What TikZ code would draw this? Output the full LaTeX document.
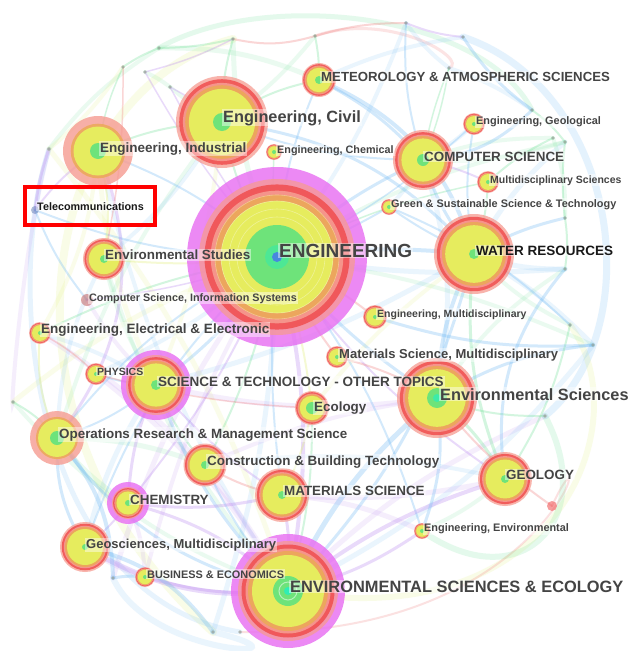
\documentclass[tikz,border=0pt]{standalone}
\usepackage{fontspec}
\setmainfont{Liberation Sans}
\definecolor{magc}{RGB}{232,112,242}
\definecolor{pinkc}{RGB}{246,155,145}
\definecolor{redc}{RGB}{240,78,78}
\definecolor{orangec}{RGB}{236,168,88}
\definecolor{yellowc}{RGB}{230,246,95}
\definecolor{greenc}{RGB}{80,225,130}
\definecolor{bluec}{RGB}{70,120,235}
\definecolor{labc}{RGB}{68,68,68}
\definecolor{labk}{RGB}{25,25,25}
\definecolor{eB}{RGB}{110,185,245}
\definecolor{eG}{RGB}{110,225,150}
\definecolor{eY}{RGB}{222,238,110}
\definecolor{eR}{RGB}{240,120,120}
\definecolor{eP}{RGB}{185,135,240}
\definecolor{dotc}{RGB}{150,160,150}
\newcommand\fsz[1]{\fontsize{#1}{#1}\selectfont}
\newcommand\bub[4]{%
  \ifnum#3>0 \fill[magc,opacity=.82] (#1) circle[radius=#3];\fi
  \fill[pinkc,opacity=.75] (#1) circle[radius=#2];
  \fill[redc,opacity=.85] (#1) circle[radius={0.93*#2}];
  \fill[pinkc,opacity=.9] (#1) circle[radius={0.85*#2}];
  \fill[orangec,opacity=.9] (#1) circle[radius={0.8*#2}];
  \fill[yellowc,opacity=.88] (#1) circle[radius={0.72*#2}];
  \fill[greenc,opacity=.8] (#1) circle[radius=#4];
}
\newcommand\pbub[3]{%
  \fill[pinkc,opacity=.8] (#1) circle[radius=#2];
  \fill[orangec,opacity=.85] (#1) circle[radius={0.78*#2}];
  \fill[yellowc,opacity=.88] (#1) circle[radius={0.7*#2}];
  \fill[greenc,opacity=.8] (#1) circle[radius=#3];
}
\tikzset{
  lab/.style={anchor=base west, text=labc, font=\bfseries, inner sep=1pt,
    fill=white, fill opacity=.45, text opacity=1},
  edge/.style={line cap=round, opacity=.3},
  fedge/.style={line cap=round, opacity=.14},
  tiny/.style={fill=dotc, opacity=.7}
}
\begin{document}
\begin{tikzpicture}[x=1pt,y=-1pt]
\fill[white] (0,0) rectangle (641,651);
\useasboundingbox (0,0) rectangle (641,651);
% node positions
\coordinate (eng) at (277,257);
\coordinate (ese) at (288,591);
\coordinate (wr) at (474,254);
\coordinate (envsci) at (437,398);
\coordinate (civil) at (222,122);
\coordinate (indus) at (98,151);
\coordinate (meteo) at (319,80);
\coordinate (cs) at (423,160);
\coordinate (engeo) at (474,124);
\coordinate (multi) at (488,182);
\coordinate (green) at (389,207);
\coordinate (engchem) at (274,152);
\coordinate (telecom) at (35,210);
\coordinate (envstud) at (104,259);
\coordinate (csis) at (87,300);
\coordinate (eee) at (40,333);
\coordinate (engmulti) at (375,317);
\coordinate (matmulti) at (337,357);
\coordinate (physics) at (96,374);
\coordinate (sto) at (156,385);
\coordinate (ecology) at (312,408);
\coordinate (orms) at (57,438);
\coordinate (cbt) at (205,465);
\coordinate (matsci) at (282,495);
\coordinate (geology) at (505,479);
\coordinate (chem) at (128,503);
\coordinate (engenv) at (422,531);
\coordinate (geosci) at (85,547);
\coordinate (business) at (145,577);
\coordinate (reddot) at (552,506);
% small unlabeled nodes
\coordinate (t1) at (233,39);
\coordinate (t2) at (159,48);
\coordinate (t3) at (123,67);
\coordinate (t4) at (145,72);
\coordinate (t5) at (170,87);
\coordinate (t6) at (315,36);
\coordinate (t7) at (406,23);
\coordinate (t8) at (463,37);
\coordinate (t9) at (449,68);
\coordinate (t10) at (565,142);
\coordinate (t11) at (565,218);
\coordinate (t12) at (565,269);
\coordinate (t13) at (532,110);
\coordinate (t14) at (553,138);
\coordinate (t15) at (545,416);
\coordinate (t16) at (593,345);
\coordinate (t17) at (570,325);
\coordinate (t18) at (13,402);
\coordinate (t19) at (213,632);
\coordinate (t20) at (240,632);
\coordinate (t21) at (49,149);
\coordinate (t22) at (113,578);
% big faint arcs
\draw[edge,eY,line width=8pt,opacity=.16] (t1) .. controls (40,90) and (-25,420) .. (t19);
\draw[edge,eB,line width=5pt,opacity=.16] (t21) .. controls (0,300) and (40,600) .. (t20);
\draw[edge,eP,line width=4pt,opacity=.14] (t21) .. controls (20,260) and (10,420) .. (t18);
\draw[edge,eB,line width=7pt,opacity=.18] (t8) .. controls (620,90) and (650,330) .. (t15);
\draw[edge,eG,line width=5pt,opacity=.18] (t2) .. controls (260,-10) and (480,10) .. (t13);
\draw[edge,eR,line width=3pt,opacity=.2] (t6) .. controls (390,10) and (470,60) .. (t9);
\draw[edge,eY,line width=6pt,opacity=.16] (t17) .. controls (640,420) and (560,640) .. (ese);
\draw[edge,eR,line width=2pt,opacity=.22] (reddot) .. controls (600,400) and (560,640) .. (t20);
\draw[edge,eG,line width=6pt,opacity=.18] (t15) .. controls (600,520) and (520,600) .. (engenv);
\draw[edge,eB,line width=6pt,opacity=.14] (t22) .. controls (150,660) and (330,660) .. (t19);
% faint wide edges
\foreach \a/\b/\c/\w/\bd in {
 eng/t1/eG/5/10, eng/t7/eB/4/-8, eng/t10/eG/4/10, eng/t12/eB/5/-6, eng/t16/eG/4/8,
 eng/t18/eY/5/-10, eng/t19/eB/5/8, eng/t22/eP/5/-10, ese/t15/eP/5/10, ese/t16/eB/5/-12,
 ese/t18/eG/4/14, ese/t21/eY/5/-10, ese/indus/eB/4/10, ese/eee/eP/5/-14, ese/envstud/eG/4/12,
 ese/physics/eP/5/-10, wr/t10/eB/5/10, wr/t17/eG/4/-10, wr/sto/eB/5/8, wr/ecology/eY/4/-8,
 envsci/sto/eP/5/10, envsci/cbt/eP/4/-8, envsci/t12/eG/4/12, envsci/cs/eB/5/-14,
 civil/sto/eY/4/8, civil/orms/eG/4/-10, civil/envstud/eB/4/10, civil/t6/eG/4/-8,
 cs/green/eB/4/8, cs/engeo/eB/4/-8, cs/t14/eG/4/10, indus/sto/eY/5/-10, indus/eee/eY/4/12,
 sto/geosci/eB/5/-10, sto/envstud/eG/4/10, sto/eee/eB/4/-8, sto/csis/eP/4/8,
 orms/chem/eG/5/-10, orms/envstud/eB/4/12, chem/business/eP/4/10, geosci/business/eP/5/-8,
 matsci/engenv/eP/5/10, matsci/geology/eP/5/-8, cbt/geology/eB/4/10, cbt/orms/eG/5/-10,
 geology/engenv/eG/4/8, t2/t21/eG/4/-10, t3/t21/eY/4/8, t4/t5/eG/4/6, t5/civil/eG/4/-6,
 t9/t13/eB/4/8, t7/t9/eB/4/-8, t14/t11/eG/4/10, eng/physics/eB/4/8, eng/business/eP/4/-8,
 wr/t12/eB/5/-10, wr/t16/eB/5/8, cs/t10/eG/4/-10, meteo/t8/eB/4/8, meteo/t2/eG/5/-12}
 { \draw[fedge,\c,line width=\w pt] (\a) to[bend left=\bd] (\b); }
% edges
\foreach \a/\b/\c/\w/\bd in {
 eng/civil/eG/2/10, eng/indus/eB/2/-10, eng/cs/eB/3/8, eng/wr/eB/4/6, eng/envsci/eB/3/-8,
 eng/ese/eP/4/12, eng/sto/eB/3/10, eng/matsci/eB/2/-6, eng/cbt/eG/2/8, eng/orms/eB/2/-12,
 eng/envstud/eY/2/6, eng/eee/eG/2/-8, eng/engmulti/eR/2/6, eng/matmulti/eR/2/-6,
 eng/meteo/eB/2/10, eng/geology/eP/2/-10, eng/chem/eP/2/8, eng/geosci/eB/2/-14,
 eng/telecom/eB/2/10, eng/ecology/eY/2/6, eng/engchem/eG/1.5/4, eng/green/eB/2/-6,
 eng/multi/eG/1.5/8, eng/engeo/eB/1.5/-8, eng/csis/eP/1.5/6, eng/engenv/eB/2/10,
 ese/envsci/eB/5/12, ese/wr/eB/3/-14, ese/geology/eP/4/10, ese/matsci/eP/3/-8,
 ese/geosci/eP/5/18, ese/business/eP/3/10, ese/chem/eP/3/-14, ese/sto/eB/3/12,
 ese/ecology/eG/2/-8, ese/engenv/eP/3/-10, ese/cbt/eB/2/8, ese/orms/eB/3/20,
 wr/envsci/eB/4/-12, wr/cs/eB/3/10, wr/meteo/eB/4/-25, wr/geology/eG/3/-14,
 wr/civil/eB/3/-20, wr/green/eB/2/6, wr/multi/eG/2/-8, wr/engeo/eB/2/10,
 civil/indus/eG/2/-10, civil/meteo/eG/2/12, civil/cs/eB/2/-10, civil/t1/eG/2/8, civil/t5/eP/1.5/-6,
 indus/orms/eP/3/30, indus/telecom/eP/2/-10, indus/t3/eG/1.5/8, indus/envstud/eY/2/12,
 cs/meteo/eB/3/-10, cs/multi/eP/2/6, cs/t13/eB/3/-20, cs/t9/eG/1.5/6,
 envsci/geology/eG/3/10, envsci/matmulti/eR/2/-8, envsci/engenv/eB/3/14,
 envsci/t15/eG/2/-10, envsci/t16/eB/3/12, geology/t17/eG/2/-10, geology/t12/eB/3/24,
 sto/chem/eP/3/-10, sto/physics/eB/2/8, sto/matsci/eP/2/-8, sto/orms/eB/2/10, sto/cbt/eG/2/-8,
 orms/t18/eG/2/-10, orms/geosci/eB/3/-16, orms/eee/eY/2/14, geosci/t19/eB/4/20,
 chem/matsci/eP/3/-10, chem/geosci/eP/2/8, matsci/cbt/eR/2/10, matsci/ecology/eY/2/-8,
 t1/t2/eG/2/6, t2/t3/eG/2/-6, t1/t6/eR/2/-14, t6/t7/eR/2/8, t7/t8/eP/2/-8, t8/t13/eB/3/-10,
 t13/t10/eG/2/8, t10/t11/eG/2/-6, t11/t12/eG/2/8, t1/t4/eP/1.5/6, t4/eng/eP/1.5/-6,
 t9/cs/eG/1.5/6, t7/cs/eB/2/-10, t6/meteo/eG/2/6, t14/multi/eG/2/-8, t21/telecom/eP/3/-6,
 t3/envstud/eR/1.5/6, t5/eng/eP/1.5/-4, t22/business/eB/3/8, t22/orms/eB/4/-20,
 t16/engmulti/eB/3/10, t17/green/eB/2/-10, reddot/envsci/eR/2/8, t11/wr/eB/3/-8,
 telecom/csis/eB/2/-8, eee/physics/eR/1.5/8, physics/ecology/eR/1.5/-6}
 { \draw[edge,\c,line width=\w pt] (\a) to[bend left=\bd] (\b); }
% small nodes
\foreach \t in {t1,t2,t3,t4,t5,t6,t7,t8,t9,t10,t11,t12,t13,t14,t15,t16,t17,t18,t19,t20,t21,t22}
  \fill[tiny] (\t) circle[radius=1.8];
% bubbles
\bub{eng}{78}{90}{32}
\foreach \rr in {40,48,56,62} \draw[white,opacity=.35,line width=.6pt] (eng) circle[radius=\rr];
\fill[greenc!70!cyan,opacity=.6] (eng) circle[radius=12];
\fill[bluec,opacity=.85] (eng) circle[radius=5];
\bub{ese}{50}{57}{15}
\draw[white,opacity=.5,line width=1pt] (ese) circle[radius=9];
\fill[greenc!60!cyan] (ese) circle[radius=4];
\bub{wr}{40}{0}{5}
\bub{envsci}{40}{0}{10}
\fill[greenc!60!cyan,opacity=.8] (envsci) circle[radius=4];
\bub{civil}{46}{0}{9}
\pbub{indus}{35}{8}
\bub{meteo}{17}{0}{4}
\bub{cs}{30}{0}{6}
\bub{engeo}{11}{0}{2}
\bub{multi}{11}{0}{2}
\bub{green}{8}{0}{2}
\bub{engchem}{8}{0}{2}
\fill[bluec!50!gray,opacity=.5] (telecom) circle[radius=4];
\bub{envstud}{21}{0}{4}
\fill[redc!60!gray,opacity=.55] (csis) circle[radius=6];
\bub{eee}{11}{0}{2}
\bub{engmulti}{12}{0}{2}
\bub{matmulti}{11}{0}{2}
\bub{physics}{11}{0}{2}
\bub{sto}{30}{35}{5}
\bub{ecology}{17}{0}{6}
\pbub{orms}{27}{7}
\bub{cbt}{21.5}{0}{4}
\bub{matsci}{27}{0}{4}
\bub{geology}{27}{0}{4}
\bub{chem}{16}{21}{3}
\bub{engenv}{8}{0}{2}
\bub{geosci}{25}{0}{3}
\bub{business}{10}{0}{2}
\fill[redc,opacity=.55] (reddot) circle[radius=5];
% labels
\node[lab] (Leng) at (278,257) {\fsz{19}ENGINEERING};
\node[lab] (Lese) at (289,592) {\fsz{16.4}ENVIRONMENTAL SCIENCES \& ECOLOGY};
\node[lab,text=labk] (Lwr) at (475,255) {\fsz{13.5}WATER RESOURCES};
\node[lab] (Lenvsci) at (439,400) {\fsz{16.3}Environmental Sciences};
\node[lab] (Lcivil) at (222,122) {\fsz{16.3}Engineering, Civil};
\node[lab] (Lindus) at (99,152) {\fsz{13.5}Engineering, Industrial};
\node[lab] (Lmeteo) at (320,81.5) {\fsz{13.2}METEOROLOGY \& ATMOSPHERIC SCIENCES};
\node[lab] (Lcs) at (423,161) {\fsz{13.4}COMPUTER SCIENCE};
\node[lab] (Lengeo) at (475,124.5) {\fsz{10.9}Engineering, Geological};
\node[lab] (Lmulti) at (489,183) {\fsz{10.5}Multidisciplinary Sciences};
\node[lab] (Lgreen) at (390,207) {\fsz{10.9}Green \& Sustainable Science \& Technology};
\node[lab] (Lengchem) at (276,153) {\fsz{10.8}Engineering, Chemical};
\node[lab,text=labk] (Ltelecom) at (36,210) {\fsz{10.8}Telecommunications};
\node[lab] (Lenvstud) at (104,259.5) {\fsz{13.4}Environmental Studies};
\node[lab] (Lcsis) at (88,301) {\fsz{10.8}Computer Science, Information Systems};
\node[lab] (Leee) at (40,333) {\fsz{13.5}Engineering, Electrical \& Electronic};
\node[lab] (Lengmulti) at (376,317) {\fsz{10.5}Engineering, Multidisciplinary};
\node[lab] (Lmatmulti) at (338,358.5) {\fsz{13}Materials Science, Multidisciplinary};
\node[lab] (Lphysics) at (96,375) {\fsz{10.5}PHYSICS};
\node[lab] (Lsto) at (157,386) {\fsz{13.5}SCIENCE \& TECHNOLOGY - OTHER TOPICS};
\node[lab] (Lecology) at (313,411) {\fsz{13.4}Ecology};
\node[lab] (Lorms) at (58,438) {\fsz{13.4}Operations Research \& Management Science};
\node[lab] (Lcbt) at (206,465) {\fsz{13.4}Construction \& Building Technology};
\node[lab] (Lmatsci) at (283,495.5) {\fsz{13.4}MATERIALS SCIENCE};
\node[lab] (Lgeology) at (505,479) {\fsz{13.4}GEOLOGY};
\node[lab] (Lchem) at (129,504) {\fsz{13.4}CHEMISTRY};
\node[lab] (Lengenv) at (423,531.5) {\fsz{10.9}Engineering, Environmental};
\node[lab] (Lgeosci) at (85,548) {\fsz{13}Geosciences, Multidisciplinary};
\node[lab] (Lbusiness) at (146,578) {\fsz{10.9}BUSINESS \& ECONOMICS};
% highlight box
\draw[red,line width=4pt] (24.5,186.5) rectangle (154.5,224.5);
\end{tikzpicture}
\end{document}
